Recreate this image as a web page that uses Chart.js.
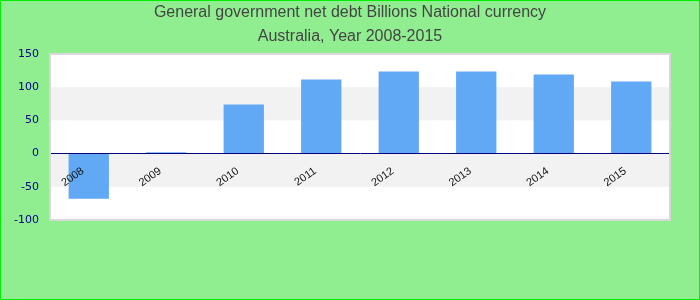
<!DOCTYPE html>
<html>
<head>
<meta charset="utf-8">
<script src="https://cdn.jsdelivr.net/npm/chart.js@4/dist/chart.umd.min.js"></script>
<style>
html,body{margin:0;padding:0;background:#90EE90;}
#wrap{width:700px;height:300px;position:relative;}
</style>
</head>
<body>
<div id="wrap"><canvas id="c" width="700" height="300"></canvas></div>
<script>
const titleLines = ["General government net debt Billions National currency", "Australia, Year 2008-2015"];
const years = ["2008", "2009", "2010", "2011", "2012", "2013", "2014", "2015"];
const netDebt = [-68, 2, 74, 111.5, 123.5, 123.5, 119, 108.5];
const yTicks = [-100, -50, 0, 50, 100, 150];

const bgPlugin = {
  id: 'bg',
  beforeDraw(chart) {
    const ctx = chart.ctx;
    const a = chart.chartArea;
    const y = chart.scales.y;
    ctx.save();
    ctx.fillStyle = '#90EE90';
    ctx.fillRect(0, 0, chart.width, chart.height);
    ctx.strokeStyle = '#00ee00';
    ctx.lineWidth = 1;
    ctx.strokeRect(0.5, 0.5, chart.width - 1, chart.height - 1);
    ctx.fillStyle = '#ffffff';
    ctx.fillRect(a.left, a.top, a.right - a.left, a.bottom - a.top);
    ctx.fillStyle = '#f2f2f2';
    for (let i = 0; i < yTicks.length - 1; i++) {
      if (i % 2 === 1) {
        const top = y.getPixelForValue(yTicks[i + 1]);
        const bot = y.getPixelForValue(yTicks[i]);
        ctx.fillRect(a.left, top, a.right - a.left, bot - top);
      }
    }
    ctx.fillStyle = '#444444';
    ctx.font = '16px "Liberation Sans", Arial, sans-serif';
    ctx.textAlign = 'center';
    ctx.textBaseline = 'middle';
    ctx.fillText(titleLines[0], chart.width / 2, 13);
    ctx.fillText(titleLines[1], chart.width / 2, 37);
    ctx.restore();
  },
  afterDraw(chart) {
    const ctx = chart.ctx;
    const a = chart.chartArea;
    ctx.save();
    ctx.strokeStyle = '#d8d8d8';
    ctx.lineWidth = 2;
    ctx.strokeRect(a.left, a.top, a.right - a.left, a.bottom - a.top);
    ctx.restore();
  }
};

new Chart(document.getElementById('c'), {
  type: 'bar',
  data: {
    labels: years,
    datasets: [{
      data: netDebt,
      backgroundColor: '#61a8f5',
      borderWidth: 0,
      barPercentage: 0.52,
      categoryPercentage: 1.0
    }]
  },
  options: {
    responsive: false,
    animation: false,
    devicePixelRatio: 1,
    layout: { padding: { top: 54, left: 0, right: 30, bottom: 80 } },
    plugins: { legend: { display: false }, title: { display: false }, tooltip: { enabled: false } },
    scales: {
      x: {
        position: { y: 0 },
        grid: { display: false, drawTicks: false },
        border: { display: true, color: '#000080', width: 1, z: 1 },
        ticks: {
          z: 1,
          color: '#111111',
          font: { family: '"Liberation Sans", Arial, sans-serif', size: 11 },
          minRotation: 35,
          maxRotation: 35,
          padding: 11,
          labelOffset: -6
        }
      },
      y: {
        min: -100,
        max: 150,
        afterFit(scale) { scale.width = 50; },
        afterBuildTicks(scale) { scale.ticks = yTicks.map(v => ({ value: v })); },
        grid: { display: false, drawTicks: false },
        border: { display: false },
        ticks: {
          color: '#00008b',
          font: { family: '"DejaVu Sans", sans-serif', size: 11 },
          padding: 11
        }
      }
    }
  },
  plugins: [bgPlugin]
});
</script>
</body>
</html>
